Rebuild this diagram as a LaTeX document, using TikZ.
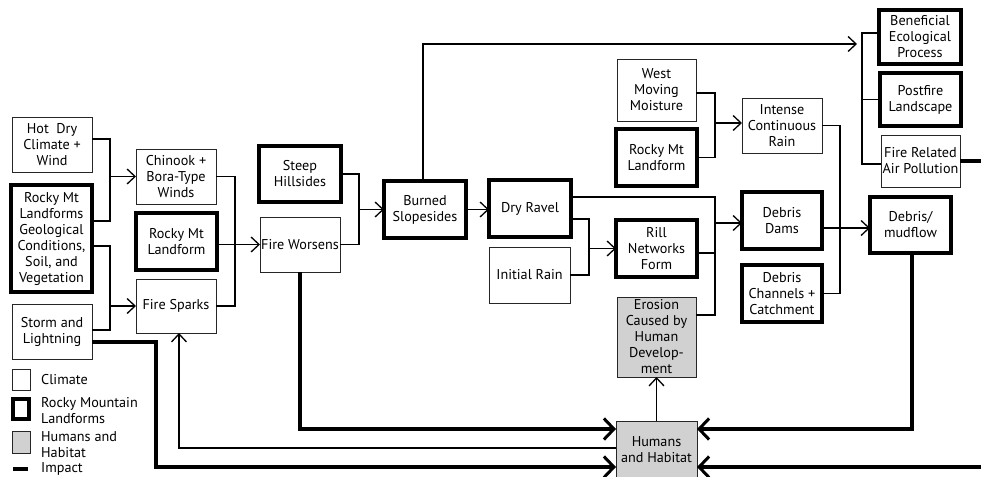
\documentclass[tikz,border=0pt]{standalone}
\usepackage{fontspec}
\setmainfont{PT Sans}
\usetikzlibrary{arrows.meta}
\newcommand\mybox[7]{%
  \node[#2, minimum width={(#5)-(#3)}, minimum height={(#6)-(#4)}] (#1) at ({((#3)+(#5))/2},{((#4)+(#6))/2}) {#7};}
\tikzset{
  base/.style={rectangle, align=center, inner sep=0.3pt, outer sep=0pt, text=black,
    font=\fontsize{14.2}{16}\selectfont},
  thinbox/.style={base, draw=black!85, line width=0.9pt, fill=white},
  thickbox/.style={base, draw=black, line width=3.2pt, fill=white},
  humbox/.style={base, draw=black!85, line width=0.9pt, fill=black!18},
  link/.style={line width=1.3pt, draw=black},
  impact/.style={line width=3.6pt, draw=black},
  arr/.style={-{Straight Barb[length=8pt,width=15pt,line width=1.3pt]}},
  arrT/.style={-{Straight Barb[length=10pt,width=21pt,line width=3pt]}},
  legtext/.style={anchor=west, align=left, inner sep=0pt, font=\fontsize{14.2}{15.5}\selectfont},
}
\begin{document}
\begin{tikzpicture}[x=1pt,y=-1pt]
\useasboundingbox (0,0) rectangle (981,476);

% boxes
\mybox{hot}{thinbox}{12}{117}{92}{172}{Hot \ Dry\\Climate +\\Wind}
\mybox{rml}{thickbox}{11}{185}{92}{292}{Rocky Mt\\Landforms\\Geological\\Conditions,\\Soil, and\\Vegetation}
\mybox{storm}{thinbox}{12}{304}{92}{359}{Storm and\\Lightning}
\mybox{chinook}{thinbox}{136}{149}{216}{204}{Chinook +\\Bora-Type\\Winds}
\mybox{rmlandA}{thickbox}{136}{213}{217}{270}{Rocky Mt\\Landform}
\mybox{sparks}{thinbox}{136}{279}{216}{333}{Fire Sparks}
\mybox{steep}{thickbox}{259}{146}{341}{202}{Steep\\Hillsides}
\mybox{worsens}{thinbox}{260}{217}{340}{272}{Fire Worsens}
\mybox{burned}{thickbox}{384}{181}{466}{238}{Burned\\Slopesides}
\mybox{dry}{thickbox}{489}{180}{571}{237}{Dry Ravel}
\mybox{initial}{thinbox}{489}{247}{570}{303}{Initial Rain}
\mybox{west}{thinbox}{617}{59}{696}{121}{West\\Moving\\Moisture}
\mybox{rmlandB}{thickbox}{616}{129}{697}{186}{Rocky Mt\\Landform}
\mybox{rill}{thickbox}{616}{220}{697}{277}{Rill\\Networks\\Form}
\mybox{erosion}{humbox}{617}{297}{696}{377}{Erosion\\Caused by\\Human\\Develop-\\ment}
\mybox{humans}{humbox}{616}{421}{697}{479}{Humans\\and Habitat}
\mybox{intense}{thinbox}{742}{98}{822}{153}{Intense\\Continuous\\Rain}
\mybox{dams}{thickbox}{742}{192}{822}{249}{Debris\\Dams}
\mybox{channels}{thickbox}{742}{265}{822}{322}{Debris\\Channels +\\Catchment}
\mybox{mudflow}{thickbox}{870}{197}{951}{253}{Debris/\\mudflow}
\mybox{beneficial}{thickbox}{879}{10}{961}{64}{Beneficial\\Ecological\\Process}
\mybox{postfire}{thickbox}{880}{73}{961}{126}{Postfire\\Landscape}
\mybox{airpol}{thinbox}{881}{135}{960}{187}{Fire Related\\Air Pollution}

% connectors
\draw[link] ([yshift=5.5pt]hot.east) -- ++(18,0) |- ([yshift=17.5pt]rml.east);
\draw[link,arr] ([xshift=-26pt]chinook.west) -- (chinook.west);
\draw[link] ([yshift=-7.5pt]rml.east) -- ++(18,0) |- ([yshift=1.5pt]storm.east);
\draw[link,arr] ([xshift=-26pt]sparks.west) -- (sparks.west);
\draw[link] (chinook.east) -- ++(19,0) |- (sparks.east);
\draw[link,arr] (rmlandA.east |- worsens.west) -- (worsens.west);
\draw[link] (steep.east) -- ++(18,0) |- (worsens.east);
\draw[link,arr] ([xshift=-25pt]burned.west) -- (burned.west);
\draw[link] ([yshift=4pt]beneficial.west) -- ++(-17,0) |- ([yshift=-3pt]airpol.west);
\draw[link] (postfire.west) -- ++(-18,0);
\draw[link,arr] ([xshift=-2pt]burned.north) |- ([xshift=-22pt,yshift=-7pt]beneficial.west);
\draw[link,arr] (burned.east) -- (burned.east -| dry.west);
\draw[link] ([yshift=11.5pt]dry.east) -| ([xshift=19pt,yshift=22pt]erosion.east) -- ([yshift=22pt]erosion.east);
\draw[link] ([yshift=-4.5pt]rill.east) -- ++(18,0);
\draw[link,arr] ([xshift=-27pt,yshift=-2.5pt]dams.west) -- ([yshift=-2.5pt]dams.west);
\draw[link] ([yshift=-10.5pt]dry.east) -- ++(18,0) |- (initial.east);
\draw[link,arr] ([xshift=-27pt]rill.west) -- (rill.west);
\draw[link] ([yshift=-3pt]west.east) -- ++(19,0) |- (rmlandB.east);
\draw[link,arr] ([xshift=-27pt,yshift=2.5pt]intense.west) -- ([yshift=2.5pt]intense.west);
\draw[link] (intense.east) -- ++(18,0) |- (channels.east);
\draw[link,arr] ([yshift=-7.5pt]dams.east) -- ([yshift=-7.5pt]dams.east -| mudflow.west);
\draw[link,arr] (humans.north) -- (erosion.south);
\draw[link,arr] ([yshift=2pt]humans.west) -| ([xshift=3pt]sparks.south);

% impacts
\draw[impact] (airpol.east) -- ++(40,0);
\draw[impact,arrT] ([xshift=1.5pt]mudflow.south) |- ([yshift=21pt]humans.east);
\draw[impact,arrT] ([xshift=300pt,yshift=-17pt]humans.east) -- ([yshift=-17pt]humans.east);
\draw[impact,arrT] (worsens.south) |- ([yshift=21pt]humans.west);
\draw[impact,arrT] ([yshift=-10.5pt]storm.east) -- ++(64,0) |- ([yshift=-17pt]humans.west);

% legend
\node[thinbox, minimum width=18pt, minimum height=21pt] (lgA) at (21,379.5) {};
\node[legtext] (lgAt) at (41,380) {Climate};
\node[thickbox, minimum width=16pt, minimum height=20pt] (lgB) at (21,409) {};
\node[legtext] (lgBt) at (41,410.5) {Rocky Mountain\\Landforms};
\node[humbox, minimum width=18pt, minimum height=22pt] (lgC) at (21,442) {};
\node[legtext] (lgCt) at (41,444.5) {Humans and\\Habitat};
\coordinate (lgD1) at (13,469);
\coordinate (lgD2) at (28,469);
\draw[impact] (lgD1) -- (lgD2);
\node[legtext] (lgDt) at (41,469) {Impact};
\end{tikzpicture}
\end{document}
